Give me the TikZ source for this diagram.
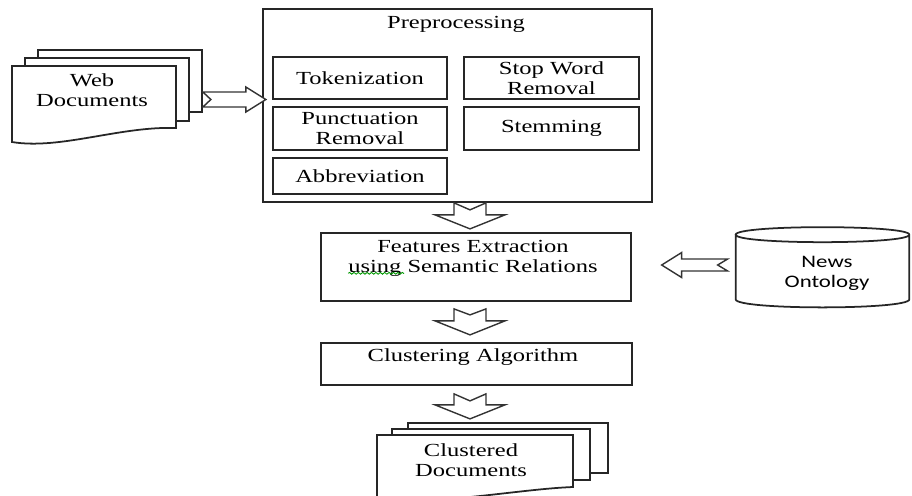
\documentclass[tikz,border=0pt]{standalone}
\usepackage{fontspec}
\setmainfont[FakeStretch=1.33]{Liberation Serif}
\newfontfamily\ontofont[FakeStretch=1.3]{Carlito}
\usetikzlibrary{calc,decorations.pathmorphing}

\tikzset{
  box/.style={draw=black!85, line width=1pt, fill=white},
  txt/.style={align=center, inner sep=1pt, font=\fontsize{10.5}{11.5}\selectfont},
  page/.style={draw=black!85, line width=1pt, fill=white},
  arrline/.style={draw=black!80, line width=0.8pt, fill=white, line join=miter},
  pics/notched/.style n args={5}{code={
    \draw[arrline] (0,-#2) -- (#1-#4,-#2) -- (#1-#4,-#3) -- (#1,0)
      -- (#1-#4,#3) -- (#1-#4,#2) -- (0,#2) -- (#5,0) -- cycle;
  }}
}

\begin{document}
\begin{tikzpicture}[x=0.02cm, y=-0.02cm]

\useasboundingbox (0,0) rectangle (912,495);

% Web documents
\node[page, minimum width=3.28cm, minimum height=1.24cm] (webback) at (120,81) {};
\node[page, minimum width=3.28cm, minimum height=1.26cm] (webmid) at (107,89.5) {};
\draw[page] (12,66) -- (176,66) -- (176,128)
  .. controls (120,126) and (60,150) .. (12,142) -- cycle;
\node[txt] (webdocs) at (92,90) {Web\\Documents};

% Preprocessing
\node[box, minimum width=7.78cm, minimum height=3.86cm] (prep) at (457.5,105.5) {};
\node[txt] (preptitle) at (456,24) {Preprocessing};
\node[box, txt, minimum width=3.48cm, minimum height=0.84cm] (tok) at (360,78) {Tokenization};
\node[box, txt, minimum width=3.5cm, minimum height=0.84cm] (stop) at (551.5,78) {Stop Word\\Removal};
\node[box, txt, minimum width=3.48cm, minimum height=0.86cm] (punct) at (360,128.5) {Punctuation\\Removal};
\node[box, txt, minimum width=3.5cm, minimum height=0.86cm] (stem) at (551.5,128.5) {Stemming};
\node[box, txt, minimum width=3.48cm, minimum height=0.72cm] (abbr) at (360,176) {Abbreviation};

% Features extraction
\node[box, minimum width=6.2cm, minimum height=1.36cm] (feat) at (476,267) {};
\node[txt] (feattxt) at (473,258) {Features Extraction\\using Semantic Relations};
\draw[green!60!black, line width=0.5pt, decorate,
  decoration={snake, amplitude=0.5pt, segment length=2.5pt}]
  ($(feattxt.south west)+(2,-5)$) -- +(56,0);

% News ontology
\node[minimum width=3.46cm, minimum height=1.28cm, inner sep=0pt] (onto) at (822.5,267) {};
\draw[page] (onto.north west) -- (onto.south west)
  .. controls +(0,10.7) and +(0,10.7) .. (onto.south east) -- (onto.north east)
  .. controls +(0,-10) and +(0,-10) .. (onto.north west)
  .. controls +(0,10) and +(0,10) .. (onto.north east);
\node[txt, font=\ontofont\fontsize{10}{11.5}\selectfont] (ontotxt) at (827,273) {News\\Ontology};

% Clustering
\node[box, minimum width=6.22cm, minimum height=0.84cm] (clust) at (476.5,364) {};
\node[txt] (clusttxt) at (473,357) {Clustering Algorithm};

% Clustered documents
\node[page, minimum width=4cm, minimum height=1cm] (cdback) at (508,448) {};
\node[page, minimum width=3.96cm, minimum height=1.02cm] (cdmid) at (491,454.5) {};
\draw[page] (377,435) -- (573,435) -- (573,487)
  .. controls (520,489) and (440,505) .. (377,500) -- cycle;
\node[txt] (cddocs) at (471,460) {Clustered\\Documents};

% Block arrows
\pic at ($(webback.east)+(0,18.5)$) {notched={63}{7.5}{12.5}{20}{8}};
\pic[rotate=-90] at ($(prep.south)+(12.5,0)$) {notched={26}{16}{35}{14}{7}};
\pic[rotate=-90] at ($(feat.south)+(-6,7)$) {notched={26}{16}{35}{14}{6}};
\pic[rotate=-90] at ($(clust.south)+(-6.5,8)$) {notched={25}{16}{35}{14}{7}};
\pic[rotate=180] at ($(onto.west)+(-8,-2)$) {notched={66}{6}{12.5}{20}{10}};

\end{tikzpicture}
\end{document}
